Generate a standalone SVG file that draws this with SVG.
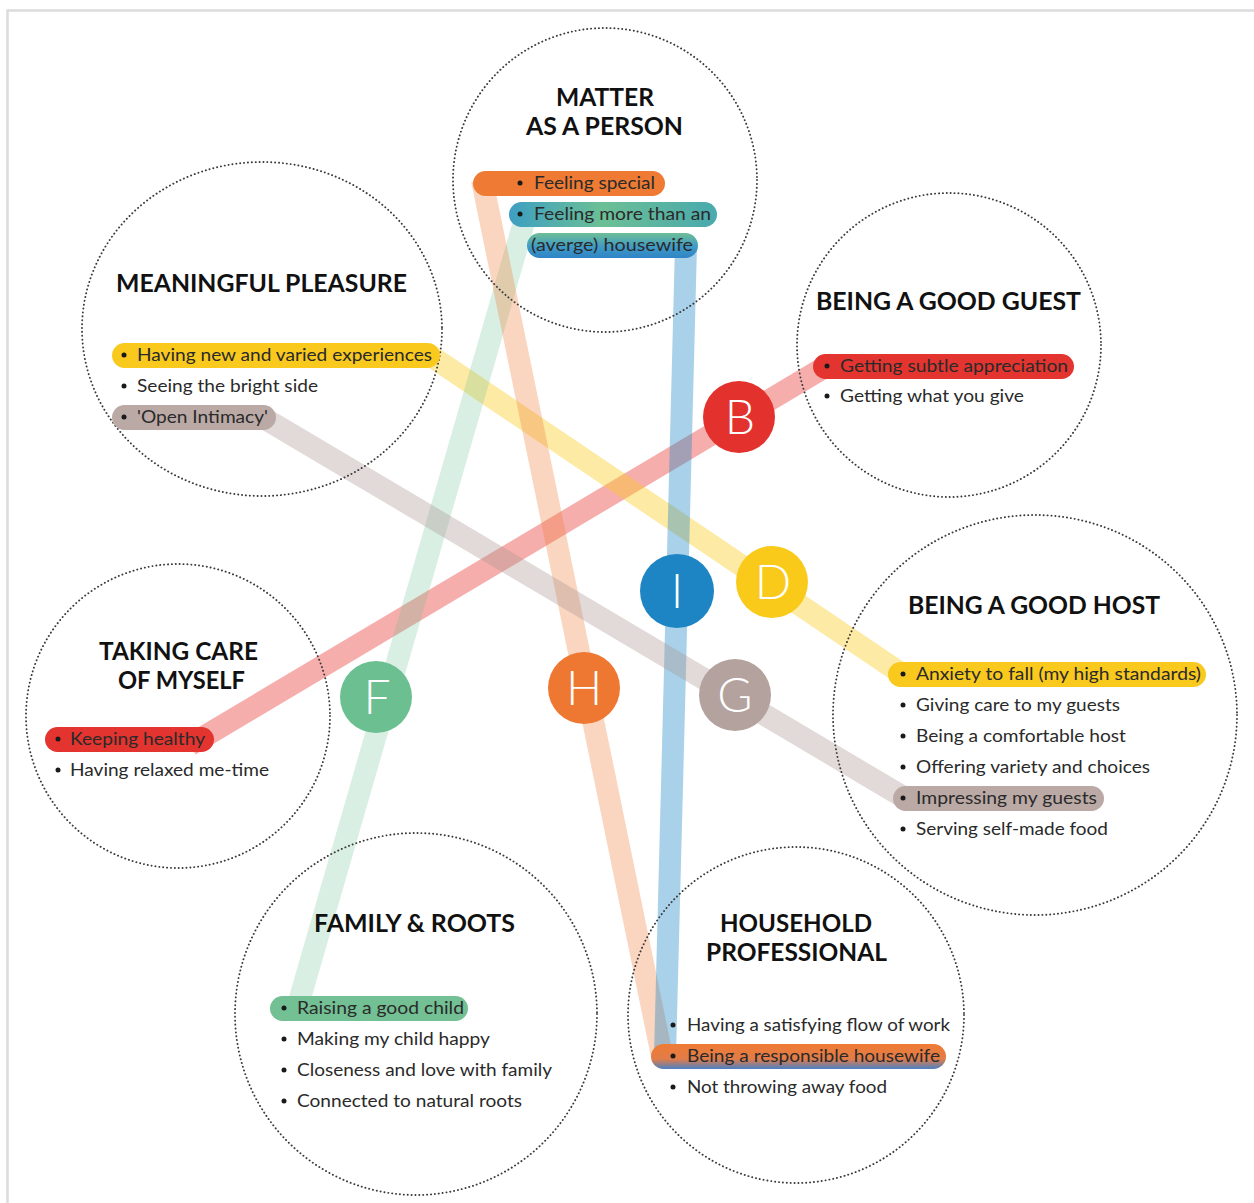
<svg xmlns="http://www.w3.org/2000/svg" width="1254" height="1203" viewBox="0 0 1254 1203">
  <style>
    .ring { fill: none; stroke: #3a3a3a; stroke-width: 1.9; stroke-dasharray: 0.1 3.8; stroke-linecap: round; }
    .title { font-family: Lato, "Liberation Sans", Arial, sans-serif; font-weight: bold; font-size: 24px; fill: #111111; text-anchor: middle; }
    .item { font-family: Lato, "Liberation Sans", Arial, sans-serif; font-size: 17.5px; fill: #2a2a2a; }
    .dot { fill: #1a1a1a; }
    .link { fill: none; stroke-width: 22; stroke-linecap: butt; }
    .badge-txt { font-family: Lato, "Liberation Sans", Arial, sans-serif; font-weight: 300; font-size: 48px; fill: #ffffff; text-anchor: middle; }
  </style>
  <defs>
    <linearGradient id="gMore" x1="0" y1="0" x2="1" y2="0">
      <stop offset="0" stop-color="#3d9fc2"/>
      <stop offset="0.45" stop-color="#6cbf95"/>
      <stop offset="1" stop-color="#49a9ad"/>
    </linearGradient>
    <linearGradient id="gHouse" x1="0" y1="0" x2="0" y2="1">
      <stop offset="0" stop-color="#6dbe95"/>
      <stop offset="0.55" stop-color="#3f9bc6"/>
      <stop offset="1" stop-color="#2f83c6"/>
    </linearGradient>
    <linearGradient id="gResp" x1="0" y1="0" x2="0" y2="1">
      <stop offset="0" stop-color="#ef7b34"/>
      <stop offset="0.6" stop-color="#e27c48"/>
      <stop offset="1" stop-color="#4b80c4"/>
    </linearGradient>
  </defs>

  <rect x="0" y="0" width="1254" height="1203" fill="#ffffff"/>
  <!-- frame -->
  <path d="M7.5 1203 V10.5 H1254" fill="none" stroke="#dcdcdc" stroke-width="2.5"/>

  <!-- connectors -->
  <g id="connectors">
    <line class="link" x1="190" y1="745" x2="830" y2="364" stroke="#e8352f" stroke-opacity="0.4"/>
    <line class="link" x1="425" y1="352" x2="905" y2="676" stroke="#f9cb1d" stroke-opacity="0.4"/>
    <line class="link" x1="298" y1="1005" x2="527" y2="212" stroke="#6bbf91" stroke-opacity="0.25"/>
    <line class="link" x1="482" y1="180" x2="662" y2="1056" stroke="#ee7732" stroke-opacity="0.3"/>
    <line class="link" x1="686" y1="245" x2="665" y2="1056" stroke="#1e85c4" stroke-opacity="0.38"/>
    <line class="link" x1="262" y1="417" x2="905" y2="798" stroke="#a8958f" stroke-opacity="0.35"/>
  </g>

  <!-- MATTER AS A PERSON -->
  <g id="matter">
    <circle class="ring" cx="605" cy="180" r="152"/>
    <text class="title" x="605" y="106" textLength="98" lengthAdjust="spacingAndGlyphs">MATTER</text>
    <text class="title" x="604.5" y="135" textLength="157" lengthAdjust="spacingAndGlyphs">AS A PERSON</text>
    <rect x="473" y="171" width="192" height="25" rx="12.5" fill="#ee7a33"/>
    <rect x="509" y="202" width="208" height="25" rx="12.5" fill="url(#gMore)"/>
    <rect x="527" y="233" width="171" height="25" rx="12.5" fill="url(#gHouse)"/>
    <circle class="dot" cx="520" cy="183" r="2.5"/>
    <text class="item" x="534" y="189" textLength="121" lengthAdjust="spacingAndGlyphs">Feeling special</text>
    <circle class="dot" cx="520" cy="214" r="2.5"/>
    <text class="item" x="534" y="220" textLength="177" lengthAdjust="spacingAndGlyphs">Feeling more than an</text>
    <text class="item" x="531" y="251" textLength="162" lengthAdjust="spacingAndGlyphs">(averge) housewife</text>
  </g>

  <!-- MEANINGFUL PLEASURE -->
  <g id="meaningful">
    <ellipse class="ring" cx="262" cy="329" rx="180" ry="167"/>
    <text class="title" x="261.5" y="292" textLength="291" lengthAdjust="spacingAndGlyphs">MEANINGFUL PLEASURE</text>
    <rect x="112" y="343" width="328" height="25" rx="12.5" fill="#f9c91e"/>
    <rect x="112" y="405" width="164" height="25" rx="12.5" fill="#bba9a5"/>
    <circle class="dot" cx="124" cy="355" r="2.5"/>
    <text class="item" x="137" y="361" textLength="295" lengthAdjust="spacingAndGlyphs">Having new and varied experiences</text>
    <circle class="dot" cx="124" cy="386" r="2.5"/>
    <text class="item" x="137" y="392" textLength="181" lengthAdjust="spacingAndGlyphs">Seeing the bright side</text>
    <circle class="dot" cx="124" cy="417" r="2.5"/>
    <text class="item" x="137" y="423" textLength="131" lengthAdjust="spacingAndGlyphs">'Open Intimacy'</text>
  </g>

  <!-- BEING A GOOD GUEST -->
  <g id="guest">
    <circle class="ring" cx="949" cy="345" r="152"/>
    <text class="title" x="948.5" y="310" textLength="265" lengthAdjust="spacingAndGlyphs">BEING A GOOD GUEST</text>
    <rect x="813" y="354" width="261" height="25" rx="12.5" fill="#e3342f"/>
    <circle class="dot" cx="827" cy="366" r="2.5"/>
    <text class="item" x="840" y="372" textLength="228" lengthAdjust="spacingAndGlyphs">Getting subtle appreciation</text>
    <circle class="dot" cx="827" cy="396" r="2.5"/>
    <text class="item" x="840" y="402" textLength="184" lengthAdjust="spacingAndGlyphs">Getting what you give</text>
  </g>

  <!-- BEING A GOOD HOST -->
  <g id="host">
    <ellipse class="ring" cx="1035" cy="715" rx="202" ry="200"/>
    <text class="title" x="1034" y="614" textLength="252" lengthAdjust="spacingAndGlyphs">BEING A GOOD HOST</text>
    <rect x="888" y="662" width="318" height="25" rx="12.5" fill="#f9c91e"/>
    <rect x="893" y="786" width="211" height="25" rx="12.5" fill="#bba9a5"/>
    <circle class="dot" cx="903" cy="674" r="2.5"/>
    <text class="item" x="916" y="680" textLength="285" lengthAdjust="spacingAndGlyphs">Anxiety to fall (my high standards)</text>
    <circle class="dot" cx="903" cy="705" r="2.5"/>
    <text class="item" x="916" y="711" textLength="204" lengthAdjust="spacingAndGlyphs">Giving care to my guests</text>
    <circle class="dot" cx="903" cy="736" r="2.5"/>
    <text class="item" x="916" y="742" textLength="210" lengthAdjust="spacingAndGlyphs">Being a comfortable host</text>
    <circle class="dot" cx="903" cy="767" r="2.5"/>
    <text class="item" x="916" y="773" textLength="234" lengthAdjust="spacingAndGlyphs">Offering variety and choices</text>
    <circle class="dot" cx="903" cy="798" r="2.5"/>
    <text class="item" x="916" y="804" textLength="181" lengthAdjust="spacingAndGlyphs">Impressing my guests</text>
    <circle class="dot" cx="903" cy="829" r="2.5"/>
    <text class="item" x="916" y="835" textLength="192" lengthAdjust="spacingAndGlyphs">Serving self-made food</text>
  </g>

  <!-- TAKING CARE OF MYSELF -->
  <g id="selfcare">
    <circle class="ring" cx="178" cy="716" r="152"/>
    <text class="title" x="178.5" y="660" textLength="159" lengthAdjust="spacingAndGlyphs">TAKING CARE</text>
    <text class="title" x="181.5" y="689" textLength="127" lengthAdjust="spacingAndGlyphs">OF MYSELF</text>
    <rect x="45" y="727" width="169" height="25" rx="12.5" fill="#e3342f"/>
    <circle class="dot" cx="58" cy="739" r="2.5"/>
    <text class="item" x="70" y="745" textLength="135" lengthAdjust="spacingAndGlyphs">Keeping healthy</text>
    <circle class="dot" cx="58" cy="770" r="2.5"/>
    <text class="item" x="70" y="776" textLength="199" lengthAdjust="spacingAndGlyphs">Having relaxed me-time</text>
  </g>

  <!-- FAMILY & ROOTS -->
  <g id="family">
    <circle class="ring" cx="416" cy="1014" r="181"/>
    <text class="title" x="414.5" y="932" textLength="201" lengthAdjust="spacingAndGlyphs">FAMILY &amp; ROOTS</text>
    <rect x="270" y="996" width="198" height="25" rx="12.5" fill="#73c094"/>
    <circle class="dot" cx="284" cy="1008" r="2.5"/>
    <text class="item" x="297" y="1014" textLength="167" lengthAdjust="spacingAndGlyphs">Raising a good child</text>
    <circle class="dot" cx="284" cy="1039" r="2.5"/>
    <text class="item" x="297" y="1045" textLength="193" lengthAdjust="spacingAndGlyphs">Making my child happy</text>
    <circle class="dot" cx="284" cy="1070" r="2.5"/>
    <text class="item" x="297" y="1076" textLength="255" lengthAdjust="spacingAndGlyphs">Closeness and love with family</text>
    <circle class="dot" cx="284" cy="1101" r="2.5"/>
    <text class="item" x="297" y="1107" textLength="225" lengthAdjust="spacingAndGlyphs">Connected to natural roots</text>
  </g>

  <!-- HOUSEHOLD PROFESSIONAL -->
  <g id="household">
    <circle class="ring" cx="796" cy="1015" r="168"/>
    <text class="title" x="796" y="932" textLength="152" lengthAdjust="spacingAndGlyphs">HOUSEHOLD</text>
    <text class="title" x="796.5" y="961" textLength="181" lengthAdjust="spacingAndGlyphs">PROFESSIONAL</text>
    <rect x="651" y="1044" width="295" height="25" rx="12.5" fill="url(#gResp)"/>
    <circle class="dot" cx="673" cy="1025" r="2.5"/>
    <text class="item" x="687" y="1031" textLength="263" lengthAdjust="spacingAndGlyphs">Having a satisfying flow of work</text>
    <circle class="dot" cx="673" cy="1056" r="2.5"/>
    <text class="item" x="687" y="1062" textLength="253" lengthAdjust="spacingAndGlyphs">Being a responsible housewife</text>
    <circle class="dot" cx="673" cy="1087" r="2.5"/>
    <text class="item" x="687" y="1093" textLength="200" lengthAdjust="spacingAndGlyphs">Not throwing away food</text>
  </g>

  <!-- link badges -->
  <g id="badge-B"><circle cx="739" cy="417" r="36" fill="#e3312d"/><text class="badge-txt" x="740" y="434">B</text></g>
  <g id="badge-D"><circle cx="772" cy="582" r="36" fill="#f9ca1a"/><text class="badge-txt" x="773" y="599">D</text></g>
  <g id="badge-I"><circle cx="677" cy="591" r="37" fill="#1e85c4"/><text class="badge-txt" x="677" y="608">I</text></g>
  <g id="badge-F"><circle cx="376" cy="697" r="36" fill="#6bbf91"/><text class="badge-txt" x="377" y="714">F</text></g>
  <g id="badge-H"><circle cx="584" cy="688" r="36" fill="#ee7732"/><text class="badge-txt" x="584" y="705">H</text></g>
  <g id="badge-G"><circle cx="735" cy="695" r="36" fill="#b3a29d"/><text class="badge-txt" x="735" y="712">G</text></g>
</svg>
